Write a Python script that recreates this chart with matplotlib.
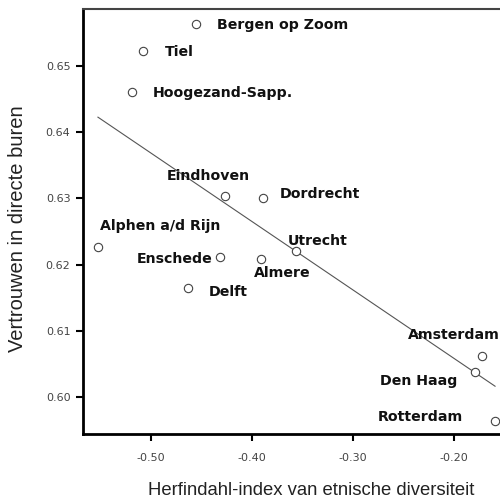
import numpy as np
import matplotlib
matplotlib.use('Agg')
import matplotlib.pyplot as plt
from matplotlib.ticker import FormatStrFormatter

plt.rcParams['axes.unicode_minus'] = False

steden = ['Bergen op Zoom', 'Tiel', 'Hoogezand-Sapp.', 'Eindhoven', 'Dordrecht',
          'Alphen a/d Rijn', 'Enschede', 'Almere', 'Utrecht', 'Delft',
          'Amsterdam', 'Den Haag', 'Rotterdam']
herfindahl = [-0.4554, -0.5079, -0.5188, -0.4267, -0.3890,
              -0.5525, -0.4317, -0.3911, -0.3564, -0.4634,
              -0.1723, -0.1792, -0.1594]
vertrouwen = [0.6564, 0.6523, 0.6461, 0.6303, 0.6300,
              0.6226, 0.6212, 0.6208, 0.6221, 0.6164,
              0.6061, 0.6037, 0.5963]
xticks = [-0.50, -0.40, -0.30, -0.20]
yticks = [0.60, 0.61, 0.62, 0.63, 0.64, 0.65]

# label offsets in pixels (dx, dy, ha)
offsets = {
    'Bergen op Zoom': (21, -1, 'left'),
    'Tiel': (22, -1, 'left'),
    'Hoogezand-Sapp.': (21, -1, 'left'),
    'Eindhoven': (-58, 20, 'left'),
    'Dordrecht': (17, 4, 'left'),
    'Alphen a/d Rijn': (2, 21, 'left'),
    'Enschede': (-7, -2, 'right'),
    'Almere': (-7, -14, 'left'),
    'Utrecht': (-8, 10, 'left'),
    'Delft': (21, -4, 'left'),
    'Amsterdam': (-74, 21, 'left'),
    'Den Haag': (-95, -9, 'left'),
    'Rotterdam': (-117, 4, 'left'),
}

fig = plt.figure(figsize=(5, 4.98), dpi=100)
ax = fig.add_axes([83/500, 1 - 434/498, 417/500, 425/498])

x = np.array(herfindahl)
y = np.array(vertrouwen)

# regressielijn
b, a = np.polyfit(x, y, 1)
xl = np.array([x.min(), x.max()])
ax.plot(xl, a + b * xl, color='#555555', lw=0.8, zorder=2)

ax.plot(x, y, 'o', ms=6, mfc='white', mec='#444444', mew=0.8, zorder=3)

for naam, xi, yi in zip(steden, x, y):
    dx, dy, ha = offsets[naam]
    ax.annotate(naam, (xi, yi), xytext=(dx, dy), textcoords='offset pixels',
                ha=ha, va='center', fontsize=10.2, fontweight='bold',
                color='#111111', family='DejaVu Sans', annotation_clip=False)

ax.set_xlim(-0.5673, -0.1545)
ax.set_ylim(0.59436, 0.65867)
ax.set_xticks(xticks)
ax.set_yticks(yticks)
ax.xaxis.set_major_formatter(FormatStrFormatter('%.2f'))
ax.yaxis.set_major_formatter(FormatStrFormatter('%.2f'))
ax.tick_params(axis='x', length=5, width=1.5, pad=9, labelsize=8, labelcolor='#444444')
ax.tick_params(axis='y', length=5, width=1.5, pad=4, labelsize=8, labelcolor='#444444')

ax.spines['right'].set_visible(False)
ax.spines['left'].set_linewidth(2)
ax.spines['bottom'].set_linewidth(2)
ax.spines['top'].set_linewidth(1.5)
ax.spines['top'].set_color('#444444')

ax.set_xlabel('Herfindahl-index van etnische diversiteit', fontsize=13.3,
              family='Liberation Sans', color='#222222', va='center')
ax.set_ylabel('Vertrouwen in directe buren', fontsize=14.5,
              family='Liberation Sans', color='#222222', va='center')
ax.xaxis.set_label_coords(0.548, -0.132)
ax.yaxis.set_label_coords(-0.156, 0.4835)

fig.savefig('out.png', dpi=100)
